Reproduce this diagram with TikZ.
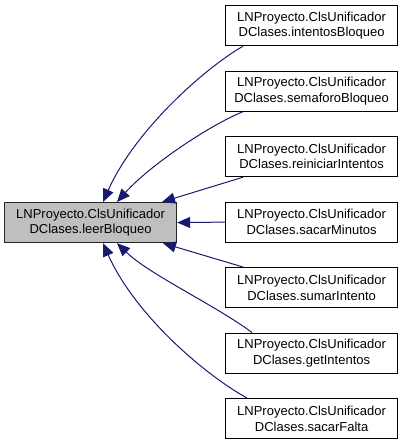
\documentclass[tikz,border=0pt]{standalone}
\usepackage{fontspec}
\setmainfont{Liberation Sans}
\usetikzlibrary{arrows.meta}
\definecolor{edgeblue}{RGB}{25,25,112}
\definecolor{boxgray}{RGB}{191,191,191}
\begin{document}
\begin{tikzpicture}[x=1pt,y=-1pt,
  fn/.style={draw=black,line width=1.2pt,minimum width=172pt,minimum height=40pt,inner sep=0pt,
    align=center,font=\fontsize{13pt}{15.5pt}\selectfont,anchor=north west},
  cur/.style={fn,fill=boxgray,draw=black!85},
  dep/.style={fn,fill=white},
  link/.style={draw=edgeblue,line width=1pt,-{Triangle[length=13pt,width=11pt]}}]
\useasboundingbox (0,0) rectangle (404,444);
\node[cur] (L) at (4,202) {LNProyecto.ClsUnificador\\DClases.leerBloqueo};
\node[dep] (n1) at (225,5) {LNProyecto.ClsUnificador\\DClases.intentosBloqueo};
\node[dep] (n2) at (225,70.5) {LNProyecto.ClsUnificador\\DClases.semaforoBloqueo};
\node[dep] (n3) at (225,136) {LNProyecto.ClsUnificador\\DClases.reiniciarIntentos};
\node[dep] (n4) at (225,201.5) {LNProyecto.ClsUnificador\\DClases.sacarMinutos};
\node[dep] (n5) at (225,267) {LNProyecto.ClsUnificador\\DClases.sumarIntento};
\node[dep] (n6) at (225,332.5) {LNProyecto.ClsUnificador\\DClases.getIntentos};
\node[dep] (n7) at (225,398) {LNProyecto.ClsUnificador\\DClases.sacarFalta};
\draw[link] ([xshift=18pt]n1.south west) .. controls (205,68) and (135,130) .. ([xshift=99pt]L.north west);
\draw[link] ([xshift=18pt]n2.south west) .. controls (210,125) and (150,165) .. ([xshift=113pt]L.north west);
\draw[link] ([xshift=18pt]n3.south west) -- ([xshift=158pt]L.north west);
\draw[link] (n4.west) -- (L.east);
\draw[link] ([xshift=18pt]n5.north west) -- ([xshift=159pt]L.south west);
\draw[link] ([xshift=27pt]n6.north west) .. controls (215,305) and (150,275) .. ([xshift=113pt]L.south west);
\draw[link] ([xshift=22pt]n7.north west) .. controls (205,375) and (135,315) .. ([xshift=99pt]L.south west);
\end{tikzpicture}
\end{document}
